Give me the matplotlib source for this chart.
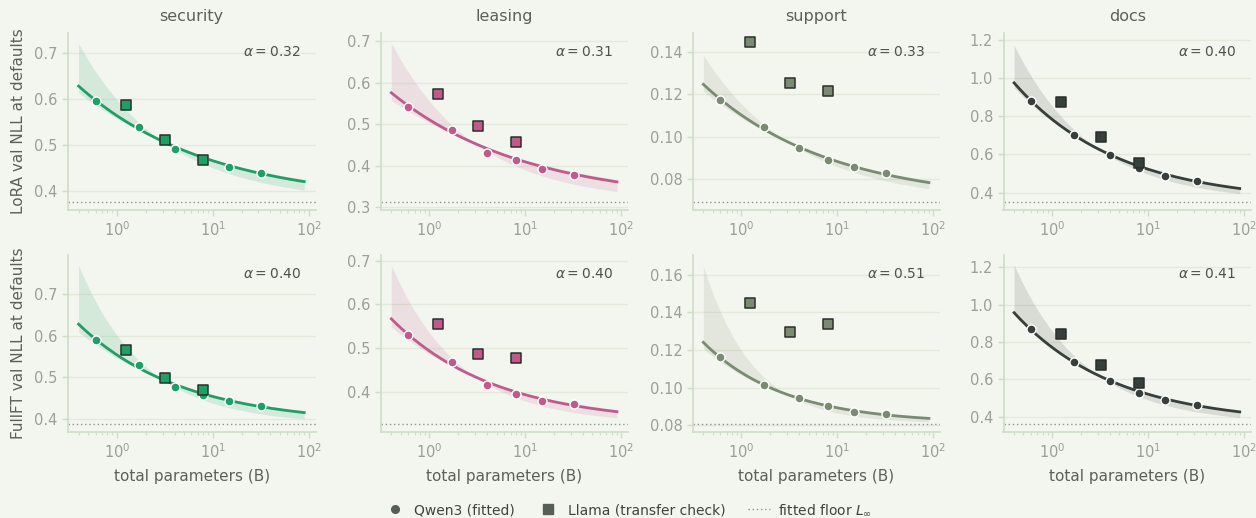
import numpy as np
import matplotlib
matplotlib.use("Agg")
import matplotlib.pyplot as plt
from matplotlib.ticker import MultipleLocator, LogLocator, NullFormatter
from matplotlib.lines import Line2D

plt.rcParams['font.family'] = ['DejaVu Sans']
plt.rcParams['mathtext.fontset'] = 'dejavusans'

# ---------------- data ----------------
domains = ["security", "leasing", "support", "docs"]
regimes = ["LoRA", "FullFT"]
qwen_sizes = [0.6, 1.7, 4.0, 8.0, 14.8, 32.0]
llama_sizes = [1.24, 3.2, 8.0]

# Qwen3 val NLL (rows: LoRA, FullFT; cols: domains)
qwen_lora = {
    "security": [0.596, 0.540, 0.491, 0.470, 0.453, 0.440],
    "leasing":  [0.542, 0.486, 0.431, 0.414, 0.393, 0.379],
    "support":  [0.1173, 0.1047, 0.0945, 0.0892, 0.0859, 0.0828],
    "docs":     [0.881, 0.699, 0.597, 0.531, 0.489, 0.460],
}
qwen_full = {
    "security": [0.589, 0.529, 0.477, 0.458, 0.444, 0.433],
    "leasing":  [0.530, 0.468, 0.416, 0.395, 0.379, 0.371],
    "support":  [0.1161, 0.1014, 0.0945, 0.0900, 0.0868, 0.0861],
    "docs":     [0.868, 0.693, 0.591, 0.529, 0.491, 0.463],
}
llama_lora = {
    "security": [0.586, 0.511, 0.469],
    "leasing":  [0.573, 0.496, 0.458],
    "support":  [0.1444, 0.1250, 0.1217],
    "docs":     [0.873, 0.692, 0.555],
}
llama_full = {
    "security": [0.565, 0.498, 0.470],
    "leasing":  [0.554, 0.487, 0.478],
    "support":  [0.1450, 0.1294, 0.1339],
    "docs":     [0.843, 0.677, 0.581],
}
# fitted power law  L(N) = L_inf + A * N^-alpha
fit_lora = {
    "security": dict(L=0.377, A=0.187, alpha=0.32),
    "leasing":  dict(L=0.312, A=0.1987, alpha=0.31),
    "support":  dict(L=0.0692, A=0.04094, alpha=0.33),
    "docs":     dict(L=0.350, A=0.4325, alpha=0.40),
}
fit_full = {
    "security": dict(L=0.389, A=0.165, alpha=0.40),
    "leasing":  dict(L=0.327, A=0.1663, alpha=0.40),
    "support":  dict(L=0.0809, A=0.02707, alpha=0.51),
    "docs":     dict(L=0.361, A=0.4093, alpha=0.41),
}
# uncertainty band: range of exponents for refits through a pivot
band_lora = {
    "security": (0.29, 0.475),
    "leasing":  (0.275, 0.496),
    "support":  (0.30, 0.44),
    "docs":     (0.38, 0.536),
}
band_full = {
    "security": (0.36, 0.63),
    "leasing":  (0.36, 0.605),
    "support":  (0.47, 0.84),
    "docs":     (0.40, 0.587),
}
band_pivot = 3.0
fit_range = (0.4, 90.0)

ylims = {
    ("LoRA", "security"): (0.36, 0.7425),
    ("LoRA", "leasing"): (0.2935, 0.72),
    ("LoRA", "support"): (0.0656, 0.1487),
    ("LoRA", "docs"): (0.309, 1.235),
    ("FullFT", "security"): (0.37, 0.792),
    ("FullFT", "leasing"): (0.308, 0.713),
    ("FullFT", "support"): (0.0764, 0.1706),
    ("FullFT", "docs"): (0.318, 1.266),
}
ysteps = {"security": 0.1, "leasing": 0.1, "support": 0.02, "docs": 0.2}

colors = {
    "security": "#1f9e66",
    "leasing": "#c05a8c",
    "support": "#7b8b73",
    "docs": "#363f3a",
}

# ---------------- style ----------------
BG = "#f3f6ef"
SPINE = "#cfdcc8"
GRID = "#e3eadc"
TICKLBL = "#9a9f97"
TXT = "#5b615a"

fig = plt.figure(figsize=(12.56, 5.18), dpi=100, facecolor=BG)

W, H = 1256, 518
lefts = [68, 380.7, 692.7, 1003.5]
tops = [33, 255]
aw, ah = 247.5, 177

for r, reg in enumerate(regimes):
    qd = qwen_lora if reg == "LoRA" else qwen_full
    ld = llama_lora if reg == "LoRA" else llama_full
    fd = fit_lora if reg == "LoRA" else fit_full
    bd = band_lora if reg == "LoRA" else band_full
    for c, dom in enumerate(domains):
        ax = fig.add_axes([lefts[c] / W, 1 - (tops[r] + ah) / H, aw / W, ah / H])
        ax.set_facecolor(BG)
        col = colors[dom]
        p = fd[dom]
        xs = np.logspace(np.log10(fit_range[0]), np.log10(fit_range[1]), 200)
        fit = p["L"] + p["A"] * xs ** (-p["alpha"])
        cpiv = p["A"] * band_pivot ** (-p["alpha"])
        alo, ahi = bd[dom]
        c1 = p["L"] + cpiv * (xs / band_pivot) ** (-alo)
        c2 = p["L"] + cpiv * (xs / band_pivot) ** (-ahi)
        lo = np.minimum(np.minimum(c1, c2), fit)
        hi = np.maximum(np.maximum(c1, c2), fit)
        ax.fill_between(xs, lo, hi, color=col, alpha=0.14, linewidth=0, zorder=1)
        ax.plot(xs, fit, color=col, lw=2.0, zorder=3)
        ax.axhline(p["L"], color="#8d928a", lw=1.0, ls=(0, (1, 2)), zorder=2)
        ax.scatter(qwen_sizes, qd[dom], s=42, color=col, edgecolor="white",
                   linewidth=1.0, zorder=4)
        ax.scatter(llama_sizes, ld[dom], s=62, marker="s", color=col,
                   edgecolor="#2b2f2b", linewidth=1.1, zorder=5)

        ax.set_xscale("log")
        ax.set_xlim(0.31, 118)
        ax.set_ylim(*ylims[(reg, dom)])
        ax.yaxis.set_major_locator(MultipleLocator(ysteps[dom]))
        ax.xaxis.set_major_locator(LogLocator(base=10, numticks=10))
        ax.xaxis.set_minor_locator(LogLocator(base=10, subs=np.arange(2, 10), numticks=20))
        ax.xaxis.set_minor_formatter(NullFormatter())
        ax.grid(axis="y", color=GRID, lw=1.0, zorder=0)
        ax.set_axisbelow(True)
        for s in ["top", "right"]:
            ax.spines[s].set_visible(False)
        for s in ["left", "bottom"]:
            ax.spines[s].set_color(SPINE)
            ax.spines[s].set_linewidth(1.2)
        ax.tick_params(axis="both", which="major", colors=SPINE, labelcolor=TICKLBL,
                       labelsize=10.5, length=4, width=1)
        ax.tick_params(axis="x", which="minor", colors=SPINE, length=2.5, width=0.8)

        ax.text(0.94, 0.895 if r == 0 else 0.89, r"$\alpha = %.2f$" % p["alpha"],
                transform=ax.transAxes, ha="right", va="center",
                fontsize=10, color="#4d524c")
        if r == 0:
            ax.set_title(dom, fontsize=11.5, color=TXT, pad=9)
        if r == 1:
            ax.set_xlabel("total parameters (B)", fontsize=11, color=TXT, labelpad=6)
        if c == 0:
            ax.set_ylabel(f"{reg} val NLL at defaults", fontsize=11, color=TXT, labelpad=6)

handles = [
    Line2D([], [], marker="o", ls="none", color="#565e56", markersize=5.5),
    Line2D([], [], marker="s", ls="none", color="#565e56", markersize=6.5),
    Line2D([], [], color="#8d928a", lw=1.0, ls=(0, (1, 2))),
]
labels = ["Qwen3 (fitted)", "Llama (transfer check)", r"fitted floor $L_\infty$"]
fig.legend(handles, labels, loc="center", bbox_to_anchor=(0.5, 1 - 510 / H),
           ncol=3, frameon=False, fontsize=10, labelcolor="#3f443e",
           handlelength=1.6, columnspacing=1.6, handletextpad=0.6)

fig.savefig("out.png", dpi=100, facecolor=BG)
